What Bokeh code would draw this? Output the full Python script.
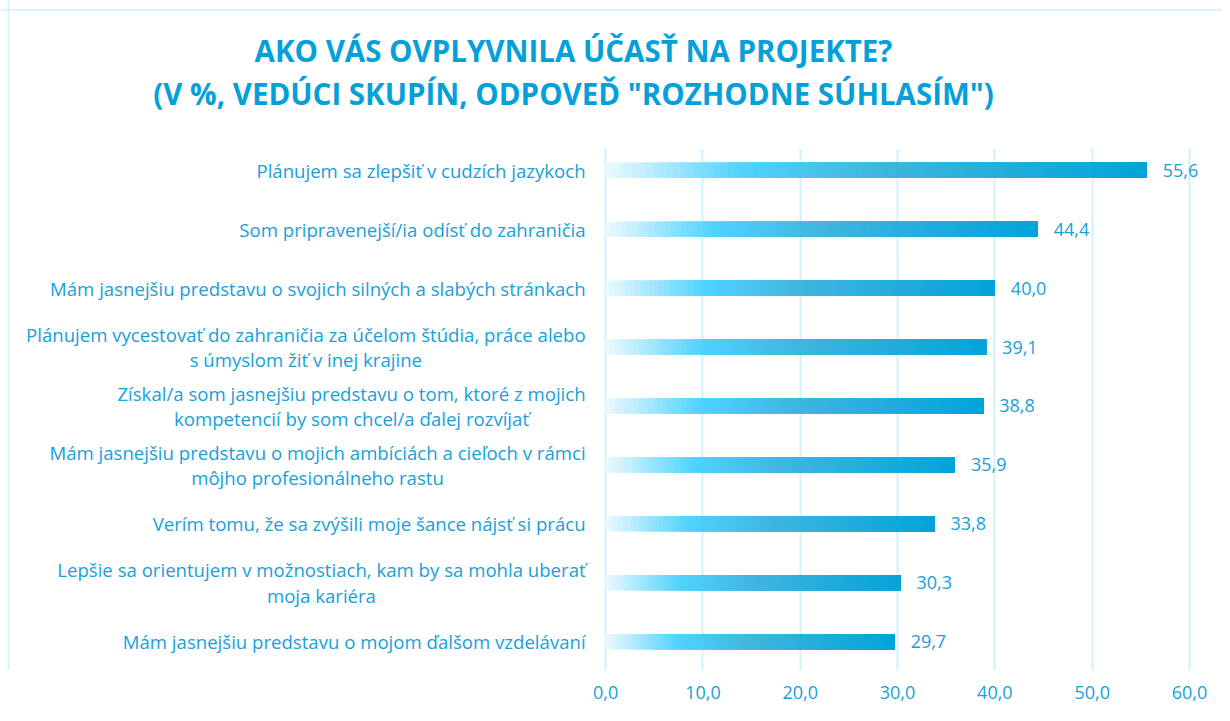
from bokeh.plotting import figure
from bokeh.layouts import column
from bokeh.models import FixedTicker, Range1d, ColumnDataSource, Span
from bokeh.core.properties import value
from bokeh.embed import file_html
from bokeh.resources import INLINE

# ---------------- data ----------------
categories = [
    "Plánujem sa zlepšiť v cudzích jazykoch",
    "Som pripravenejší/ia odísť do zahraničia",
    "Mám jasnejšiu predstavu o svojich silných a slabých stránkach",
    "Plánujem vycestovať do zahraničia za účelom štúdia, práce alebo\ns úmyslom žiť v inej krajine",
    "Získal/a som jasnejšiu predstavu o tom, ktoré z mojich\nkompetencií by som chcel/a ďalej rozvíjať",
    "Mám jasnejšiu predstavu o mojich ambíciách a cieľoch v rámci\nmôjho profesionálneho rastu",
    "Verím tomu, že sa zvýšili moje šance nájsť si prácu",
    "Lepšie sa orientujem v možnostiach, kam by sa mohla uberať\nmoja kariéra",
    "Mám jasnejšiu predstavu o mojom ďalšom vzdelávaní",
]
values = [55.6, 44.4, 40.0, 39.1, 38.8, 35.9, 33.8, 30.3, 29.7]
x_ticks = [0, 10, 20, 30, 40, 50, 60]
x_tick_labels = ["0,0", "10,0", "20,0", "30,0", "40,0", "50,0", "60,0"]
title_lines = [
    "AKO VÁS OVPLYVNILA ÚČASŤ NA PROJEKTE?",
    "(V %, VEDÚCI SKUPÍN, ODPOVEĎ \"ROZHODNE SÚHLASÍM\")",
]

# ---------------- style ----------------
FONT = "Open Sans"
TXT = "#18A0DA"
TITLE_C = "#05A0DA"
GRID = "#D3F1FC"
EDGE = "#D3F3FD"
stops = [(0.0, (238, 249, 254)), (0.25, (80, 211, 255)), (0.5, (64, 182, 223)), (1.0, (3, 163, 218))]


def grad(t):
    for (t0, c0), (t1, c1) in zip(stops[:-1], stops[1:]):
        if t <= t1:
            f = (t - t0) / (t1 - t0)
            return "#%02x%02x%02x" % tuple(int(round(a + (b - a) * f)) for a, b in zip(c0, c1))
    return "#%02x%02x%02x" % stops[-1][1]


W = 1222
TITLE_H = 148
MAIN_H = 565

# ---------------- title figure ----------------
t = figure(width=W, height=TITLE_H, output_backend="svg", toolbar_location=None,
           x_range=Range1d(0, W), y_range=Range1d(TITLE_H, 0),
           x_axis_location=None, y_axis_location=None,
           min_border=0)
t.grid.visible = False
t.outline_line_color = None
t.add_layout(Span(location=9.5, dimension="width", line_color=EDGE, line_width=2))
t.add_layout(Span(location=8, dimension="height", line_color=EDGE, line_width=2))
tsrc = ColumnDataSource(dict(x=[573, 573], y=[50, 93], text=title_lines))
t.text(x="x", y="y", text="text", source=tsrc, text_align="center", text_baseline="middle",
       text_font=value(FONT), text_font_style="bold", text_font_size="29.5px", text_color=TITLE_C)

# ---------------- main figure ----------------
n = len(categories)
ypos = [n - 1 - i for i in range(n)]
PX = 9.73  # pixels per unit
x0 = -605 / PX
x1 = 60 + (W - 1189) / PX

p = figure(width=W, height=MAIN_H, output_backend="svg", toolbar_location=None,
           x_range=Range1d(x0, x1), y_range=Range1d(-0.49, n - 1 + 0.37),
           y_axis_location=None,
           min_border_left=0, min_border_right=0, min_border_top=0, min_border_bottom=43)
p.outline_line_color = None
p.ygrid.grid_line_color = None
p.xgrid.ticker = FixedTicker(ticks=x_ticks)
p.xgrid.grid_line_color = GRID
p.xgrid.grid_line_width = 2
p.add_layout(Span(location=x0 + 8 / PX, dimension="height", line_color=EDGE, line_width=2))

p.xaxis.ticker = FixedTicker(ticks=x_ticks)
p.xaxis.major_label_overrides = {tk: lb for tk, lb in zip(x_ticks, x_tick_labels)}
p.xaxis.axis_line_color = None
p.xaxis.major_tick_line_color = None
p.xaxis.minor_tick_line_color = None
p.xaxis.major_label_text_color = TXT
p.xaxis.major_label_text_font = FONT
p.xaxis.major_label_text_font_size = "18px"
p.xaxis.major_label_standoff = 9

# gradient bars: overlapping slices from k/N of the value to the end
N = 80
for k in range(N):
    f = k / N
    src = ColumnDataSource(dict(y=ypos, left=[v * f for v in values], right=values))
    p.hbar(y="y", left="left", right="right", height=0.255, source=src,
           fill_color=grad(f + 0.5 / N), line_color=None)

# category labels (centered lines, right edge near the axis)
csrc = ColumnDataSource(dict(x=[0] * n, y=ypos, text=categories))
p.text(x="x", y="y", text="text", source=csrc, x_offset=-20, anchor="center_right",
       text_align="center", text_baseline="middle", text_line_height=1.02,
       text_color=TXT, text_font=value(FONT), text_font_size="18.6px")

# value labels
lab_src = ColumnDataSource(dict(x=values, y=ypos, t=[("%.1f" % v).replace(".", ",") for v in values]))
p.text(x="x", y="y", text="t", source=lab_src, x_offset=16, text_align="left",
       text_baseline="middle", text_color=TXT, text_font=value(FONT), text_font_size="18px")

layout = column(t, p, spacing=0)
open("out.html", "w").write(file_html(layout, INLINE))
